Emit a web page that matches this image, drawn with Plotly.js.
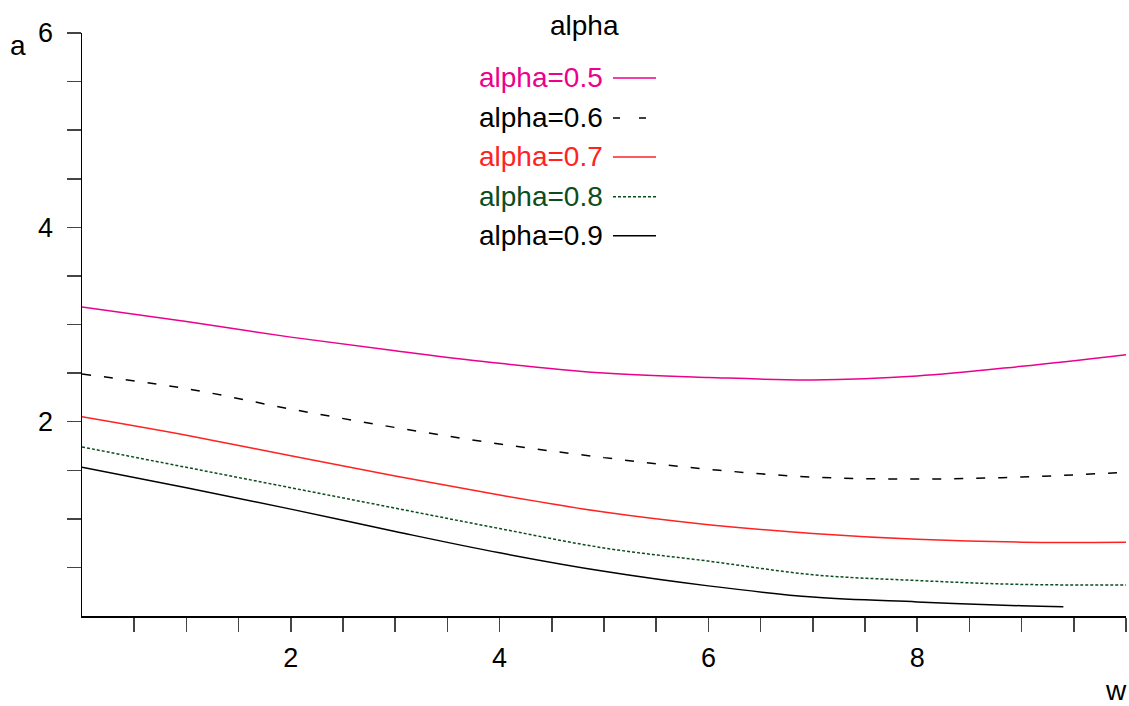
<!DOCTYPE html>
<html>
<head>
<meta charset="utf-8">
<script src="https://cdn.plot.ly/plotly-3.0.1.min.js"></script>
<style>html,body{margin:0;padding:0;background:#fff;}#chart{width:1129px;height:706px;}</style>
</head>
<body>
<div id="chart"></div>
<script>
// ---- data ----
const wFull = [0, 1, 2, 3, 4, 5, 6, 7, 8, 9, 10];
const wShort = [0, 1, 2, 3, 4, 5, 6, 7, 8, 9, 9.4];
const a05 = [3.18, 3.03, 2.87, 2.73, 2.60, 2.50, 2.455, 2.43, 2.47, 2.57, 2.69];
const a06 = [2.49, 2.34, 2.13, 1.94, 1.77, 1.63, 1.51, 1.43, 1.41, 1.43, 1.48];
const a07 = [2.05, 1.86, 1.65, 1.44, 1.245, 1.07, 0.94, 0.85, 0.79, 0.76, 0.76];
const a08 = [1.74, 1.53, 1.32, 1.11, 0.90, 0.70, 0.565, 0.425, 0.365, 0.325, 0.32];
const a09 = [1.53, 1.32, 1.10, 0.87, 0.65, 0.46, 0.31, 0.195, 0.145, 0.105, 0.095];
const seriesNames = ["alpha=0.5", "alpha=0.6", "alpha=0.7", "alpha=0.8", "alpha=0.9"];
const xTickVals = [0.5,1,1.5,2,2.5,3,3.5,4,4.5,5,5.5,6,6.5,7,7.5,8,8.5,9,9.5,10];
const xTickText = xTickVals.map(v => (v === 2 || v === 4 || v === 6 || v === 8) ? String(v) : "");
const yTickVals = [0.5,1,1.5,2,2.5,3,3.5,4,4.5,5,5.5,6];
const yTickText = yTickVals.map(v => (v === 2 || v === 4 || v === 6) ? String(v) : "");
const legendTitle = "alpha";
const xTitle = "w";
const yTitle = "a";

// ---- styles ----
const FONT = "Liberation Sans, Arial, Helvetica, sans-serif";
const styles = [
  {color: "#ec008c", dash: "solid"},
  {color: "#000000", dash: "9px,13px"},
  {color: "#ff2222", dash: "solid"},
  {color: "#0b4d1c", dash: "3px,2px"},
  {color: "#000000", dash: "solid"}
];
const xs = [wFull, wFull, wFull, wFull, wShort];
const ys = [a05, a06, a07, a08, a09];

const traces = ys.map((y, i) => ({
  x: xs[i], y: y, type: "scatter", mode: "lines", name: seriesNames[i],
  showlegend: false, hoverinfo: "skip",
  line: {color: styles[i].color, dash: styles[i].dash, width: 1.5, shape: "spline", smoothing: 1.0}
}));

// pixel -> paper helpers (plot area: x 82..1126, y 33..616.5)
const L = 82, R = 1126, T = 33, B = 616.5;
const px = p => (p - L) / (R - L);
const py = p => (B - p) / (B - T);

const annotations = [];
const shapes = [];
annotations.push({xref: "paper", yref: "paper", x: px(584), y: py(25), text: legendTitle, showarrow: false,
  xanchor: "center", yanchor: "middle", font: {family: FONT, size: 28, color: "#000"}});
const rowY = [78, 118, 157, 197, 236];
seriesNames.forEach((n, i) => {
  annotations.push({xref: "paper", yref: "paper", x: px(605), y: py(rowY[i]), text: n, showarrow: false,
    xanchor: "right", yanchor: "middle", font: {family: FONT, size: 28, color: styles[i].color}});
  shapes.push({type: "line", xref: "paper", yref: "paper", x0: px(613), x1: px(656), y0: py(rowY[i]), y1: py(rowY[i]),
    line: {color: styles[i].color, width: 1.5, dash: i === 1 ? "7px,19px" : styles[i].dash}});
});
annotations.push({xref: "paper", yref: "paper", x: px(18), y: py(46), text: yTitle, showarrow: false,
  xanchor: "center", yanchor: "middle", font: {family: FONT, size: 28, color: "#000"}});
annotations.push({xref: "paper", yref: "paper", x: px(1116), y: py(691), text: xTitle, showarrow: false,
  xanchor: "center", yanchor: "middle", font: {family: FONT, size: 28, color: "#000"}});

const layout = {
  width: 1129, height: 706,
  margin: {l: 82, r: 3, t: 33, b: 89.5, pad: 0},
  paper_bgcolor: "#fff", plot_bgcolor: "#fff",
  showlegend: false,
  font: {family: FONT, size: 27, color: "#000"},
  xaxis: {
    range: [0, 10], tickmode: "array", tickvals: xTickVals, ticktext: xTickText,
    ticks: "outside", ticklen: 14, tickwidth: 1.5, tickcolor: "#444",
    showline: true, linecolor: "#000", linewidth: 1.5, mirror: false,
    showgrid: false, zeroline: false, ticklabelstandoff: 3,
    tickfont: {family: FONT, size: 27, color: "#000"}
  },
  yaxis: {
    range: [0, 6], tickmode: "array", tickvals: yTickVals, ticktext: yTickText,
    ticks: "outside", ticklen: 14, tickwidth: 1.5, tickcolor: "#444",
    showline: true, linecolor: "#000", linewidth: 1.5, mirror: false,
    showgrid: false, zeroline: false, ticklabelstandoff: 8,
    tickfont: {family: FONT, size: 27, color: "#000"}
  },
  annotations: annotations,
  shapes: shapes
};

Plotly.newPlot("chart", traces, layout, {staticPlot: true, displayModeBar: false});
</script>
</body>
</html>
